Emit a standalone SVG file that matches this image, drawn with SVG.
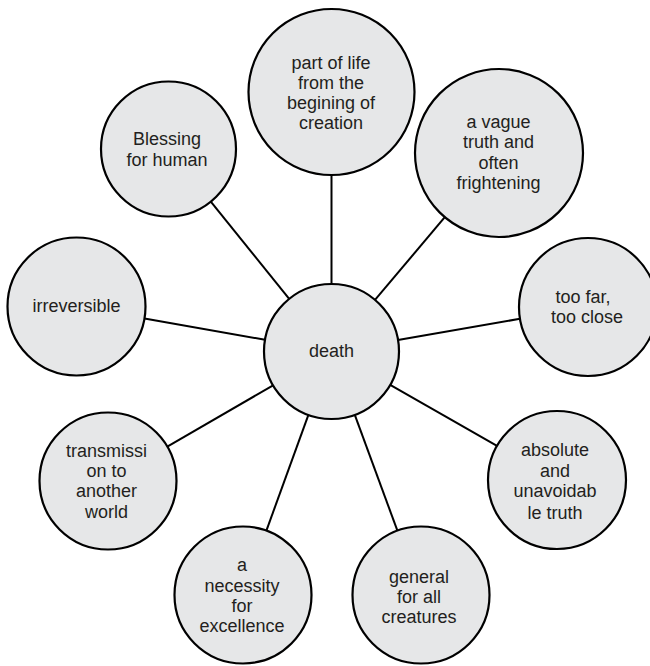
<svg xmlns="http://www.w3.org/2000/svg" width="650" height="666" viewBox="0 0 650 666">
<style>
.c{fill:#e6e7e8;stroke:#000;stroke-width:2.2}
.l{stroke:#000;stroke-width:2;fill:none}
text{font-family:"Liberation Sans",Arial,sans-serif;font-size:18px;fill:#231f20;text-anchor:middle}
</style>
<rect width="650" height="666" fill="#fff"/>
<g id="connectors">
<line class="l" x1="331.5" y1="284" x2="331.5" y2="175"/>
<line class="l" x1="289.2" y1="298.9" x2="210.8" y2="201.6"/>
<line class="l" x1="375" y1="299.9" x2="444.8" y2="217.2"/>
<line class="l" x1="265" y1="339.8" x2="144.5" y2="318.5"/>
<line class="l" x1="398" y1="340" x2="520" y2="318.8"/>
<line class="l" x1="273.1" y1="385.3" x2="167.3" y2="446.7"/>
<line class="l" x1="308.4" y1="414.9" x2="266.4" y2="530.6"/>
<line class="l" x1="354.8" y1="414.9" x2="397.4" y2="530.7"/>
<line class="l" x1="390.2" y1="384.9" x2="497" y2="445.8"/>
</g>
<g id="death">
<circle class="c" cx="331.5" cy="351.5" r="67.5"/>
<text x="331.5" y="357">death</text>
</g>
<g id="part-of-life">
<circle class="c" cx="331.5" cy="92" r="83"/>
<text x="331" y="69">part of life</text>
<text x="331" y="89">from the</text>
<text x="331" y="109">begining of</text>
<text x="331" y="129">creation</text>
</g>
<g id="blessing">
<circle class="c" cx="168.5" cy="149" r="67.5"/>
<text x="167" y="145">Blessing</text>
<text x="167" y="166">for human</text>
</g>
<g id="vague">
<circle class="c" cx="499" cy="153" r="84"/>
<text x="498.5" y="128">a vague</text>
<text x="498.5" y="148">truth and</text>
<text x="498.5" y="169">often</text>
<text x="498.5" y="189">frightening</text>
</g>
<g id="irreversible">
<circle class="c" cx="76.5" cy="306.5" r="69"/>
<text x="76.5" y="312">irreversible</text>
</g>
<g id="too-far">
<circle class="c" cx="588" cy="307" r="69"/>
<text x="583" y="303">too far,</text>
<text x="587" y="323">too close</text>
</g>
<g id="transmission">
<circle class="c" cx="108" cy="481" r="68.5"/>
<text x="106.5" y="457">transmissi</text>
<text x="106.5" y="477">on to</text>
<text x="106.5" y="497">another</text>
<text x="106.5" y="518">world</text>
</g>
<g id="necessity">
<circle class="c" cx="243" cy="595" r="68.5"/>
<text x="242" y="571">a</text>
<text x="242" y="592">necessity</text>
<text x="242" y="612">for</text>
<text x="242" y="632">excellence</text>
</g>
<g id="general">
<circle class="c" cx="421" cy="595" r="68.5"/>
<text x="419" y="583">general</text>
<text x="419" y="603">for all</text>
<text x="419" y="623">creatures</text>
</g>
<g id="absolute">
<circle class="c" cx="557" cy="480" r="69"/>
<text x="555" y="456">absolute</text>
<text x="555" y="477">and</text>
<text x="555" y="497">unavoidab</text>
<text x="555" y="519">le truth</text>
</g>
</svg>
